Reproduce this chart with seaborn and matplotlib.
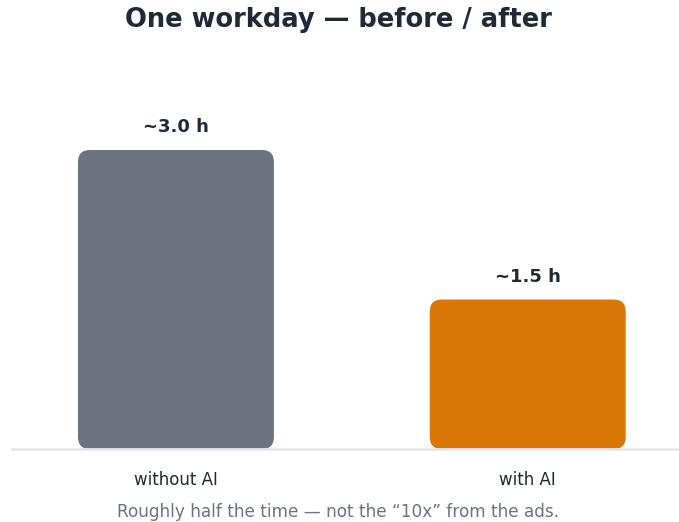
"""One workday before / after bar chart."""

import matplotlib
import pandas as pd
import seaborn as sns
from matplotlib.patches import FancyBboxPatch

matplotlib.use("Agg")
import matplotlib.pyplot as plt

categories = ["without AI", "with AI"]
hours = [3.0, 1.5]
value_labels = ["~3.0 h", "~1.5 h"]
bar_colors = ["#6b7280", "#d97706"]

df = pd.DataFrame({"mode": categories, "hours": hours})

sns.set_style("white")
plt.rcParams["font.family"] = ["DejaVu Sans"]

fig = plt.figure(figsize=(6.79, 5.22), dpi=100)
ax = fig.add_axes([12 / 679, 73 / 522, 667 / 679, 0.70])

sns.barplot(data=df, x="mode", y="hours", hue="mode", palette=bar_colors,
            width=0.557, legend=False, ax=ax)

ax.set_xlim(-0.466, 1.43)
ax.set_ylim(0, 3.0 * 0.70 * 522 / 299)

# swap plain rectangles for rounded ones
fig.canvas.draw()
bbox = ax.get_window_extent()
x_per_px = (ax.get_xlim()[1] - ax.get_xlim()[0]) / bbox.width
y_per_px = (ax.get_ylim()[1] - ax.get_ylim()[0]) / bbox.height
for patch, color in zip(list(ax.patches), bar_colors):
    x0, y0 = patch.get_x(), patch.get_y()
    w, h = patch.get_width(), patch.get_height()
    patch.remove()
    ax.add_patch(FancyBboxPatch(
        (x0, y0), w, h,
        boxstyle=f"round,pad=0,rounding_size={12 * x_per_px}",
        mutation_aspect=y_per_px / x_per_px,
        facecolor=color, edgecolor="none", zorder=2,
    ))

for i, (val, lab) in enumerate(zip(hours, value_labels)):
    ax.text(i, val + 0.14, lab, ha="center", va="bottom", fontsize=13,
            fontweight="bold", color="#1f2937")

sns.despine(ax=ax, left=True, top=True, right=True)
ax.spines["bottom"].set_color("#e5e7eb")
ax.spines["bottom"].set_linewidth(2)
ax.set_yticks([])
ax.set_xlabel("")
ax.set_ylabel("")
ax.tick_params(axis="x", length=0, pad=16, labelsize=12, labelcolor="#1f2937")

fig.text(338 / 679, 1 - 20 / 522, "One workday — before / after", ha="center",
         va="center", fontsize=18.5, fontweight="bold", color="#1f2937")
fig.text(338 / 679, 1 - 512 / 522,
         "Roughly half the time — not the \u201c10x\u201d from the ads.",
         ha="center", va="center", fontsize=12.2, color="#6b7280")

fig.savefig("out.png", dpi=100, facecolor="white")
plt.close(fig)
